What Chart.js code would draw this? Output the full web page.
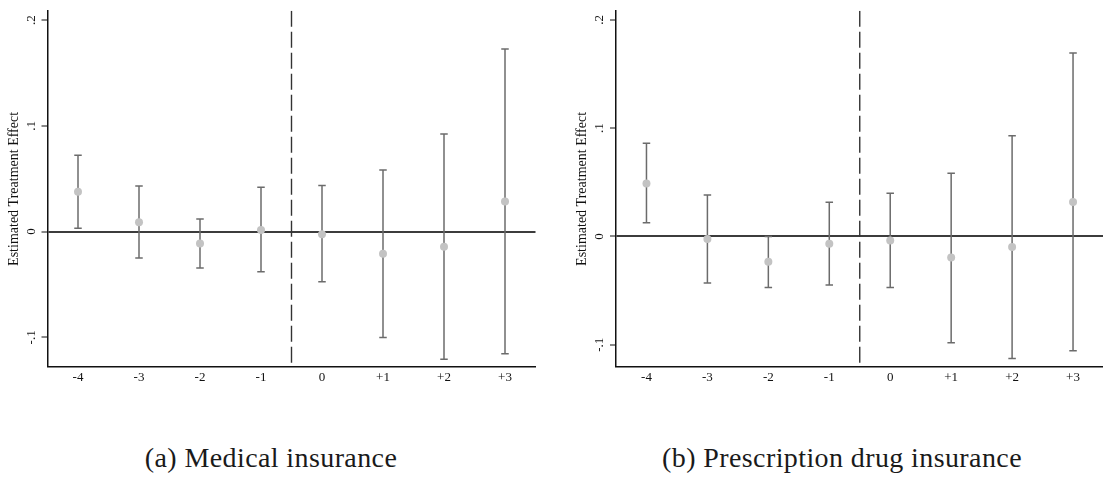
<!DOCTYPE html>
<html><head><meta charset="utf-8">
<script src="https://cdn.jsdelivr.net/npm/chart.js@4"></script>
<style>
html,body{margin:0;padding:0;background:#fff;}
body{width:1103px;height:479px;overflow:hidden;position:relative;}
.box{position:absolute;top:0;}
.cap{position:absolute;top:444px;font-family:'Liberation Serif',serif;font-size:28px;line-height:28px;color:#1a1a1a;white-space:nowrap;transform:translateX(-50%);letter-spacing:0.4px;}
</style></head><body>
<div class="box" style="left:0px"><canvas id="c1" width="541" height="400"></canvas></div>
<div class="box" style="left:568px"><canvas id="c2" width="541" height="400"></canvas></div>
<div class="cap" style="left:271px">(a) Medical insurance</div>
<div class="cap" style="left:842px">(b) Prescription drug insurance</div>
<script>
const periods = [-4, -3, -2, -1, 0, 1, 2, 3];
const periodLabels = ['-4', '-3', '-2', '-1', '0', '+1', '+2', '+3'];
const yTickValues = [-0.1, 0, 0.1, 0.2];
const yTickLabels = ['-.1', '0', '.1', '.2'];
const treatmentStart = -0.5;

const medicalEst = [0.0376, 0.0088, -0.0113, 0.0016, -0.0025, -0.0210, -0.0144, 0.0285];
const medicalLo  = [0.0031, -0.0250, -0.0345, -0.0380, -0.0473, -0.1000, -0.1207, -0.1154];
const medicalHi  = [0.0721, 0.0430, 0.0119, 0.0420, 0.0436, 0.0583, 0.0922, 0.1727];

const drugEst = [0.0489, -0.0024, -0.0235, -0.0067, -0.0037, -0.0196, -0.0098, 0.0318];
const drugLo  = [0.0125, -0.0431, -0.0471, -0.0450, -0.0471, -0.0982, -0.1128, -0.1055];
const drugHi  = [0.0859, 0.0382, 0.0000, 0.0315, 0.0398, 0.0584, 0.0930, 0.1694];

Chart.defaults.font.family = "'Liberation Serif', serif";
Chart.defaults.color = '#111';

function makeChart(id, est, lo, hi, yMin, yMax, yAxisWidth) {
  const datasets = [];
  datasets.push({
    label: 'estimate',
    data: periods.map((p, i) => ({x: p, y: est[i]})),
    showLine: false,
    pointRadius: 4,
    pointBackgroundColor: '#c3c3c3',
    pointBorderWidth: 0,
    order: 0
  });
  periods.forEach((p, i) => {
    datasets.push({
      label: 'ci' + p,
      data: [{x: p, y: lo[i]}, {x: p, y: hi[i]}],
      showLine: true,
      borderColor: '#6b6b6b',
      borderWidth: 1.5,
      pointStyle: 'line',
      pointRadius: 3.75,
      pointBorderColor: '#6b6b6b',
      pointBorderWidth: 1.5,
      order: 1
    });
  });
  datasets.push({
    label: 'treatment',
    data: [{x: treatmentStart, y: yMax}, {x: treatmentStart, y: yMin}],
    showLine: true,
    borderColor: '#333',
    borderWidth: 1.4,
    borderDash: [16, 5],
    pointRadius: 0,
    order: 2
  });
  return new Chart(document.getElementById(id), {
    type: 'scatter',
    data: {datasets},
    options: {
      responsive: false,
      animation: false,
      devicePixelRatio: 1,
      layout: {padding: {left: 0, top: 8, right: 2, bottom: 0}},
      plugins: {legend: {display: false}, tooltip: {enabled: false}},
      scales: {
        x: {
          type: 'linear',
          min: -4.5, max: 3.5,
          afterBuildTicks: s => { s.ticks = periods.map(v => ({value: v})); },
          afterFit: s => { s.height = 33; },
          ticks: {
            callback: (v) => periodLabels[periods.indexOf(v)],
            font: {size: 13},
            color: '#111',
            padding: 3,
            maxRotation: 0, minRotation: 0
          },
          grid: {display: false, drawTicks: false},
          border: {display: true, color: '#111', width: 1.5}
        },
        y: {
          type: 'linear',
          min: yMin, max: yMax,
          afterBuildTicks: s => { s.ticks = yTickValues.map(v => ({value: v})); },
          afterFit: s => { s.width = yAxisWidth; },
          ticks: {
            callback: (v) => yTickLabels[yTickValues.findIndex(t => Math.abs(t - v) < 1e-9)],
            font: {size: 13},
            color: '#111',
            padding: 3,
            minRotation: 90, maxRotation: 90,
            crossAlign: 'center'
          },
          grid: {
            display: true,
            drawOnChartArea: true,
            drawTicks: true,
            tickLength: 6,
            tickColor: '#111',
            tickWidth: 1,
            color: c => (c.tick && Math.abs(c.tick.value) < 1e-9) ? '#3c3c3c' : 'rgba(0,0,0,0)',
            lineWidth: c => (c.tick && Math.abs(c.tick.value) < 1e-9) ? 2 : 0
          },
          border: {display: true, color: '#111', width: 1.5},
          title: {
            display: true,
            text: 'Estimated Treatment Effect',
            font: {size: 14},
            color: '#111',
            padding: {top: 6, bottom: 0}
          }
        }
      }
    }
  });
}

makeChart('c1', medicalEst, medicalLo, medicalHi, -0.128, 0.2087, 47.5);
makeChart('c2', drugEst, drugLo, drugHi, -0.1206, 0.2083, 48);
</script>
</body></html>
